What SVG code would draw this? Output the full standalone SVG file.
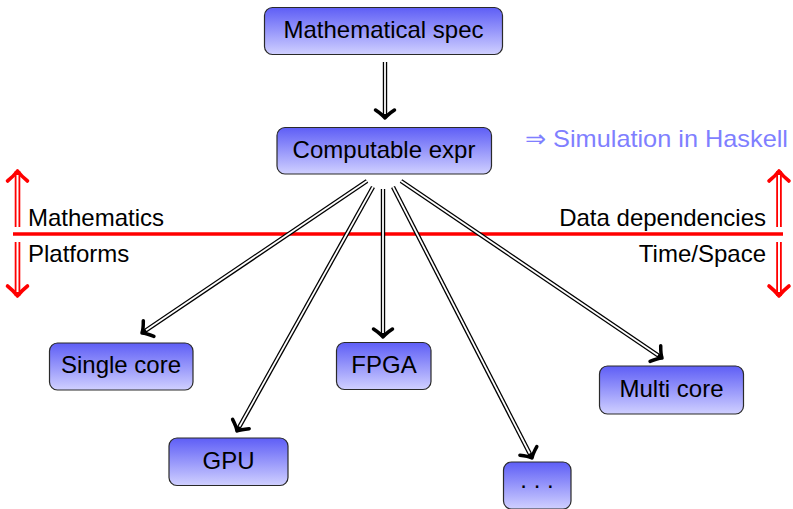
<svg xmlns="http://www.w3.org/2000/svg" width="793" height="509" viewBox="0 0 793 509">
<defs>
<linearGradient id="nodeGrad" x1="0" y1="0" x2="0" y2="1">
<stop offset="0" stop-color="#5e5ef6"/>
<stop offset="1" stop-color="#d0d0ff"/>
</linearGradient>
<marker id="headK" markerUnits="userSpaceOnUse" viewBox="-12 -12 14 24" markerWidth="14" markerHeight="24" refX="0" refY="0" orient="auto" overflow="visible">
<path d="M-8,-9.5 C-5,-5 -2,-1.5 0,0 C-2,1.5 -5,5 -8,9.5" fill="none" stroke="#000" stroke-width="3.5" stroke-linecap="round" stroke-linejoin="round"/>
</marker>
<marker id="headR" markerUnits="userSpaceOnUse" viewBox="-14 -12 16 24" markerWidth="16" markerHeight="24" refX="0" refY="0" orient="auto" overflow="visible">
<path d="M-10,-10 C-6,-5 -2,-1.5 0,0 C-2,1.5 -6,5 -10,10" fill="none" stroke="#f00" stroke-width="3.6" stroke-linecap="round" stroke-linejoin="round"/>
</marker>
</defs>
<style>
.box{fill:url(#nodeGrad);stroke:#2a2a2a;stroke-width:1.2}
.lbl{font-family:"Liberation Sans",Arial,sans-serif;font-size:24px;fill:#000}
.mid{text-anchor:middle}
.end{text-anchor:end}
.outer{fill:none;stroke:#000;stroke-width:4.4}
.inner{fill:none;stroke:#fff;stroke-width:1.8}
.router{fill:none;stroke:#f00;stroke-width:5.6}
.rinner{fill:none;stroke:#fff;stroke-width:2}
.sim{font-family:"Liberation Sans",Arial,sans-serif;font-size:24px;fill:#7f7fff}
</style>
<rect width="793" height="509" fill="#fff"/>

<g id="dividers">
<line x1="13" y1="234" x2="783" y2="234" stroke="#f00" stroke-width="3.4"/>
<path class="router" d="M17.5,227 L17.5,171" marker-end="url(#headR)"/>
<path class="rinner" d="M17.5,228 L17.5,175"/>
<path class="router" d="M17.5,242 L17.5,296" marker-end="url(#headR)"/>
<path class="rinner" d="M17.5,241 L17.5,292"/>
<path class="router" d="M779,227 L779,171" marker-end="url(#headR)"/>
<path class="rinner" d="M779,228 L779,175"/>
<path class="router" d="M779,242 L779,296" marker-end="url(#headR)"/>
<path class="rinner" d="M779,241 L779,292"/>
<text class="lbl" x="28" y="226">Mathematics</text>
<text class="lbl" x="28" y="262">Platforms</text>
<text class="lbl end" x="766" y="226">Data dependencies</text>
<text class="lbl end" x="766" y="262">Time/Space</text>
</g>

<g id="connectors">
<path class="outer" d="M385,62 L385,118" marker-end="url(#headK)"/>
<path class="inner" d="M385,61 L385,114"/>
<path class="outer" d="M367,181 L142,333" marker-end="url(#headK)"/>
<path class="inner" d="M367,181 L146,330.2"/>
<path class="outer" d="M373,187 L237,431" marker-end="url(#headK)"/>
<path class="inner" d="M373,187 L239.4,426.6"/>
<path class="outer" d="M383,189 L383,337" marker-end="url(#headK)"/>
<path class="inner" d="M383,189 L383,333"/>
<path class="outer" d="M393,187 L532,458" marker-end="url(#headK)"/>
<path class="inner" d="M393,187 L529.7,453.5"/>
<path class="outer" d="M401,181 L662,358" marker-end="url(#headK)"/>
<path class="inner" d="M401,181 L657.9,355.2"/>
</g>

<g id="node-spec">
<rect class="box" x="264.5" y="7.5" width="238" height="47" rx="8"/>
<text class="lbl mid" x="383.5" y="38">Mathematical spec</text>
</g>
<g id="node-computable">
<rect class="box" x="277" y="127.5" width="214.5" height="46.5" rx="8"/>
<text class="lbl mid" x="384" y="158">Computable expr</text>
</g>
<g id="node-single">
<rect class="box" x="49.5" y="343" width="143.5" height="47" rx="8"/>
<text class="lbl mid" x="121" y="373">Single core</text>
</g>
<g id="node-gpu">
<rect class="box" x="169" y="438" width="119" height="47.5" rx="8"/>
<text class="lbl mid" x="228.5" y="469">GPU</text>
</g>
<g id="node-fpga">
<rect class="box" x="336.5" y="342.5" width="94.5" height="47" rx="8"/>
<text class="lbl mid" x="384" y="373">FPGA</text>
</g>
<g id="node-multi">
<rect class="box" x="599.5" y="366" width="144" height="48" rx="8"/>
<text class="lbl mid" x="671.5" y="397">Multi core</text>
</g>
<g id="node-dots">
<rect class="box" x="503.5" y="462" width="67.5" height="47" rx="8"/>
<text class="lbl mid" x="537" y="488">. . .</text>
</g>
<g id="note">
<text class="sim" x="525" y="147" textLength="263" lengthAdjust="spacingAndGlyphs">⇒ Simulation in Haskell</text>
</g>
</svg>
